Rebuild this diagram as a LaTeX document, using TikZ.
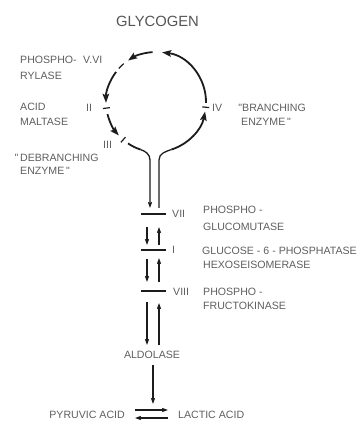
\documentclass[tikz,border=0pt]{standalone}
\usepackage{fontspec}
\setmainfont{Liberation Sans}
\newfontfamily\labfont{Liberation Sans}
\usetikzlibrary{arrows.meta,calc}
\definecolor{ink}{HTML}{1C1C1C}
\definecolor{labgray}{HTML}{5E5E5E}
\definecolor{titlegray}{HTML}{555555}
\tikzset{
  lab/.style={font=\labfont\fontsize{10.6}{11}\selectfont, text=labgray, inner sep=0pt, anchor=base west},
  ring/.style={draw=ink, line width=1.8pt},
  stem/.style={draw=ink, line width=1.3pt},
  tickmark/.style={draw=ink, line width=1.2pt},
  bar/.style={draw=ink, line width=1.4pt},
  bighead/.style={-{Stealth[length=9pt,width=6.5pt,inset=1.5pt]}},
  smallhead/.style={-{Stealth[length=6pt,width=4.2pt,inset=1pt]}},
}
\begin{document}
\begin{tikzpicture}[x=1pt,y=1pt]
\useasboundingbox (0,0) rectangle (360,421);

% title
\node[font=\fontsize{14.8}{15}\selectfont, text=titlegray, inner sep=0pt, anchor=base] (glyc) at (157.5,394) {GLYCOGEN};

% ---------------- glycogen cycle ----------------
\coordinate (C) at (156,319);

% left side, top -> V.VI -> II -> III
\draw[ring,bighead] (C) ++(94:50) arc[start angle=94,end angle=124,radius=50];
\draw[tickmark] (C) ++(134:50) ++(44:3.5) -- ++(224:7);
\draw[ring,bighead] (C) ++(143:50) arc[start angle=143,end angle=181,radius=50];
\draw[tickmark] (C) ++(187:46.5) -- ++(187:7);
\draw[ring,bighead] (C) ++(194:50) arc[start angle=194,end angle=222,radius=50];
\draw[tickmark] (C) ++(229:46.5) -- ++(229:7);
\draw[ring] (C) ++(236:50) arc[start angle=236,end angle=252,radius=50];

% stems below the ring
\coordinate (sl) at (150,213);
\coordinate (sr) at (159,213);
\draw[stem,smallhead] ($(C)+(252:50)$) to[out=-18,in=90] (150,261) -- (sl);
\draw[stem] (sr) -- (159,261) to[out=90,in=198] ($(C)+(288:50)$);

% right side, IV -> top
\draw[ring,bighead] (C) ++(288:50) arc[start angle=288,end angle=349,radius=50];
\draw[tickmark] (C) ++(354:46.5) -- ++(354:7);
\draw[ring,bighead] (C) ++(-1:50) arc[start angle=-1,end angle=83,radius=50];

% ring labels
\node[lab] (phos1) at (20,357) {PHOSPHO-};
\node[lab] (n56) at (83,357) {V.VI};
\node[lab] (phos2) at (20,341) {RYLASE};
\node[lab] (acid) at (20,310) {ACID};
\node[lab] (malt) at (20,295) {MALTASE};
\node[lab] (n2) at (86,309) {II};
\node[lab] (n3) at (103,272) {III};
\node[lab] (debr) at (20,259) {\llap{"\,}DEBRANCHING};
\node[lab] (debr2) at (20,246) {ENZYME\,"};
\node[lab] (n4) at (212,309) {IV};
\node[lab] (bran) at (242,309) {\llap{"}BRANCHING};
\node[lab] (bran2) at (241,295) {ENZYME\,"};

% ---------------- glycolytic chain ----------------
\coordinate (b7) at (153.5,207);
\coordinate (b1) at (153,171);
\coordinate (b8) at (153,130);
\draw[bar] ([xshift=-12.5pt]b7) -- ([xshift=12.5pt]b7);
\draw[bar] ([xshift=-12.5pt]b1) -- ([xshift=12.5pt]b1);
\draw[bar] ([xshift=-12.5pt]b8) -- ([xshift=12.5pt]b8);

\node[lab] (n7) at (172,203) {VII};
\node[lab] (pgm1) at (203,207) {PHOSPHO -};
\node[lab] (pgm2) at (203,190) {GLUCOMUTASE};
\node[lab] (n1) at (172,167) {I};
\node[lab] (g6p) at (202,166) {GLUCOSE - 6 - PHOSPHATASE};
\node[lab] (hex) at (203,152) {HEXOSEISOMERASE};
\node[lab] (n8) at (173,125) {VIII};
\node[lab] (pfk1) at (203,125) {PHOSPHO -};
\node[lab] (pfk2) at (203,111) {FRUCTOKINASE};

% paired forward / backward arrows
\coordinate (d1a) at (147,194); \coordinate (d1b) at (147,176);
\coordinate (u1a) at (159,176); \coordinate (u1b) at (159,194);
\coordinate (d2a) at (147,162); \coordinate (d2b) at (147,139);
\coordinate (u2a) at (159,139); \coordinate (u2b) at (159,163);
\coordinate (d3a) at (147,119); \coordinate (d3b) at (147,76);
\coordinate (u3a) at (159,76);  \coordinate (u3b) at (159,118);
\foreach \s/\t in {d1a/d1b,u1a/u1b,d2a/d2b,u2a/u2b,d3a/d3b,u3a/u3b}
  \draw[stem,smallhead] (\s) -- (\t);

\node[lab, anchor=base] (ald) at (152,62) {ALDOLASE};
\coordinate (alda) at (153,56);
\coordinate (aldb) at (153,17);
\draw[stem,smallhead] (alda) -- (aldb);

% pyruvate / lactate equilibrium
\node[lab, anchor=base east] (pyr) at (125,2) {PYRUVIC ACID};
\node[lab] (lac) at (178,2) {LACTIC ACID};
\coordinate (e1a) at (135,11); \coordinate (e1b) at (168,11);
\coordinate (e2a) at (168,3);  \coordinate (e2b) at (135,3);
\draw[stem,smallhead] (e1a) -- (e1b);
\draw[stem,smallhead] (e2a) -- (e2b);
\end{tikzpicture}
\end{document}
